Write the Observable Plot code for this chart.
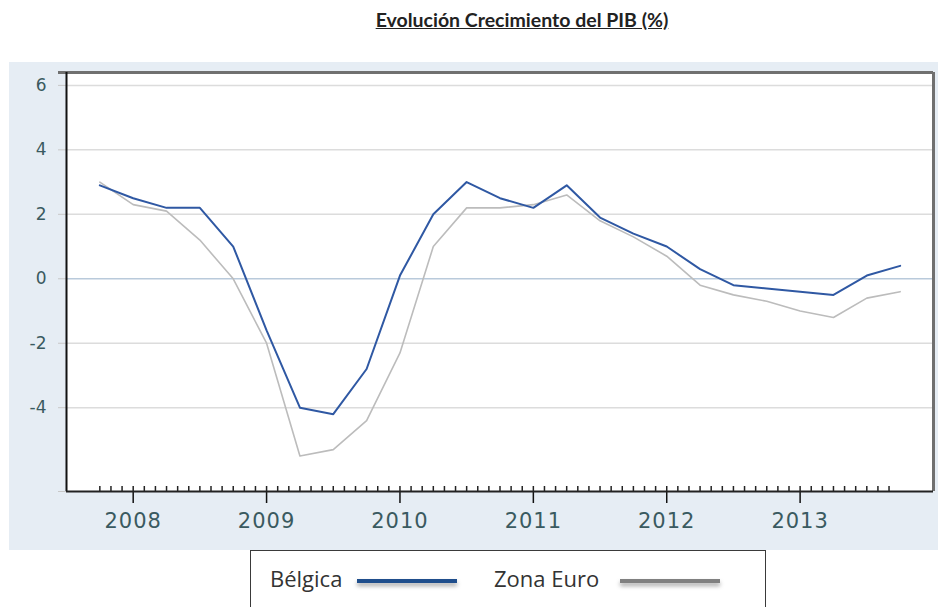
<!DOCTYPE html>
<html>
<head>
<meta charset="utf-8">
<script src="https://cdn.jsdelivr.net/npm/d3@7"></script>
<script src="https://cdn.jsdelivr.net/npm/@observablehq/plot@0.6"></script>
<style>
  html, body { margin: 0; padding: 0; background: #ffffff; }
  body { width: 938px; height: 607px; position: relative; overflow: hidden; }
  #title {
    position: absolute; left: 322px; top: 8px; width: 400px; text-align: center;
    font-family: Lato, "Open Sans", sans-serif; font-weight: bold; font-size: 19.5px;
    line-height: 24px; color: #222; text-decoration: underline;
  }
  #chart { position: absolute; left: 9px; top: 62px; width: 929px; height: 488px; background: #e6edf4; }
  #chart svg { display: block; overflow: visible; }
  #chart g[aria-label="x-axis tick label"] text { letter-spacing: 1px; }
  #legend {
    position: absolute; left: 250px; top: 550px; width: 514px; height: 80px;
    border: 1.5px solid #3a3a3a; background: #fff;
    font-family: "Open Sans", Lato, sans-serif; font-size: 22px; color: #333;
  }
  .lg-text { position: absolute; top: 12px; line-height: 30px; }
  .lg-line { position: absolute; top: 28px; height: 4px; width: 100px; box-shadow: 0 3px 4px rgba(0,0,0,0.35); }
</style>
</head>
<body>
<div id="title">Evolución Crecimiento del PIB (%)</div>
<div id="chart"></div>
<div id="legend">
  <span class="lg-text" style="left:19px">Bélgica</span>
  <span class="lg-line" style="left:106px;background:#1f4e8c"></span>
  <span class="lg-text" style="left:243px">Zona Euro</span>
  <span class="lg-line" style="left:369px;background:#808080"></span>
</div>
<script>
// Quarterly periods (decimal year) from 2007 T4 to 2013 T4
const periods = [2007.75, 2008.0, 2008.25, 2008.5, 2008.75, 2009.0, 2009.25, 2009.5, 2009.75,
  2010.0, 2010.25, 2010.5, 2010.75, 2011.0, 2011.25, 2011.5, 2011.75,
  2012.0, 2012.25, 2012.5, 2012.75, 2013.0, 2013.25, 2013.5, 2013.75];
const belgica = [2.9, 2.5, 2.2, 2.2, 1.0, -1.6, -4.0, -4.2, -2.8, 0.1, 2.0, 3.0, 2.5, 2.2, 2.9,
  1.9, 1.4, 1.0, 0.3, -0.2, -0.3, -0.4, -0.5, 0.1, 0.4];
const zonaEuro = [3.0, 2.3, 2.1, 1.2, 0.0, -2.0, -5.5, -5.3, -4.4, -2.3, 1.0, 2.2, 2.2, 2.3, 2.6,
  1.8, 1.3, 0.7, -0.2, -0.5, -0.7, -1.0, -1.2, -0.6, -0.4];
const yearTicks = [2008, 2009, 2010, 2011, 2012, 2013];
const yTicks = [6, 4, 2, 0, -2, -4];
const xDomain = [2007.5, 2014];
const yDomain = [-6.6, 6.4];
// monthly minor ticks from Oct 2007 to Sep 2013
const monthTicks = d3.range(0, 72).map(k => 2007.75 + k / 12);

const rowsB = periods.map((p, i) => ({x: p, y: belgica[i]}));
const rowsZ = periods.map((p, i) => ({x: p, y: zonaEuro[i]}));

const labelColor = "#3a5a60";

const chart = Plot.plot({
  width: 929,
  height: 488,
  marginLeft: 57,
  marginRight: 5,
  marginTop: 10,
  marginBottom: 59,
  style: {background: "transparent", fontFamily: "DejaVu Sans, Verdana, sans-serif"},
  x: {domain: xDomain},
  y: {domain: yDomain},
  marks: [
    Plot.frame({fill: "white", stroke: null}),
    Plot.gridY(yTicks.filter(d => d !== 0), {stroke: "#dcdcdc", strokeOpacity: 1, strokeWidth: 1.5}),
    Plot.ruleY([0], {stroke: "#b9cadb", strokeWidth: 1.5}),
    Plot.line(rowsZ, {x: "x", y: "y", stroke: "#bcbcbc", strokeWidth: 1.6}),
    Plot.line(rowsB, {x: "x", y: "y", stroke: "#2f58a3", strokeWidth: 2}),
    Plot.axisY(yTicks, {tickSize: 8, tickPadding: 12, stroke: "#c8c8c8", fill: labelColor,
      fontSize: 17, tickFormat: d => String(d), label: null}),
    Plot.axisY([yDomain[0]], {tickSize: 8, stroke: "#c8c8c8", tickFormat: () => "", label: null}),
    Plot.ruleX(monthTicks, {y1: yDomain[0], y2: yDomain[0], insetTop: -5, stroke: "#222", strokeWidth: 1.5}),
    Plot.axisX(yearTicks, {tickSize: 12, tickPadding: 10, stroke: "#111", fill: labelColor,
      fontSize: 21, tickFormat: d => String(d), label: null, strokeWidth: 1.5}),
    Plot.ruleY([yDomain[1]], {stroke: "#707070", strokeWidth: 3, insetLeft: -8}),
    Plot.ruleX([xDomain[1]], {stroke: "#707070", strokeWidth: 3}),
    Plot.ruleX([xDomain[0]], {stroke: "#111", strokeWidth: 2}),
    Plot.ruleY([yDomain[0]], {stroke: "#222", strokeWidth: 2})
  ]
});
document.getElementById("chart").appendChild(chart);
</script>
</body>
</html>
